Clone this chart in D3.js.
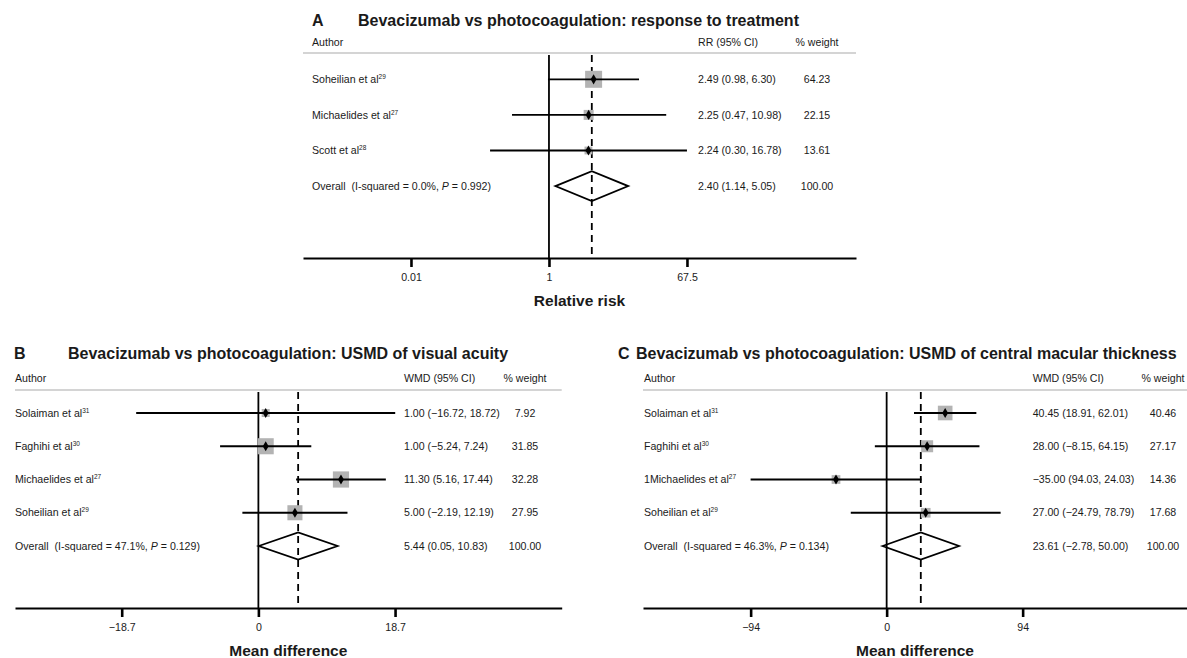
<!DOCTYPE html>
<html>
<head>
<meta charset="utf-8">
<script src="https://cdn.jsdelivr.net/npm/d3@7"></script>
<style>
body { margin: 0; background: #fff; }
text { font-family: "Liberation Sans", Arial, sans-serif; fill: #1a1a1a; white-space: pre; }
.ttl { font-size: 16px; font-weight: bold; }
.row { font-size: 10.6px; }
.axttl { font-size: 15.5px; font-weight: bold; }
</style>
</head>
<body>
<div id="chart"></div>
<script>
// A: response to treatment (risk ratio)
var studiesA = ["Soheilian et al", "Michaelides et al", "Scott et al"];
var refsA = ["29", "27", "28"];
var rrA = [2.49, 2.25, 2.24];
var lowA = [0.98, 0.47, 0.30];
var highA = [6.30, 10.98, 16.78];
var weightA = [64.23, 22.15, 13.61];
var ciTextA = ["2.49 (0.98, 6.30)", "2.25 (0.47, 10.98)", "2.24 (0.30, 16.78)"];
var overallA = [2.40, 1.14, 5.05];
var overallTextA = "2.40 (1.14, 5.05)";
var hetA = ["0.0%", "0.992"];
var tickValsA = [0.0596, 1, 16.78];
var tickLabelsA = ["0.01", "1", "67.5"];

// B: visual acuity (mean difference)
var studiesB = ["Solaiman et al", "Faghihi et al", "Michaelides et al", "Soheilian et al"];
var refsB = ["31", "30", "27", "29"];
var wmdB = [1.00, 1.00, 11.30, 5.00];
var lowB = [-16.72, -5.24, 5.16, -2.19];
var highB = [18.72, 7.24, 17.44, 12.19];
var weightB = [7.92, 31.85, 32.28, 27.95];
var ciTextB = ["1.00 (\u221216.72, 18.72)", "1.00 (\u22125.24, 7.24)", "11.30 (5.16, 17.44)", "5.00 (\u22122.19, 12.19)"];
var overallB = [5.44, 0.05, 10.83];
var overallTextB = "5.44 (0.05, 10.83)";
var hetB = ["47.1%", "0.129"];
var tickValsB = [-18.7, 0, 18.7];
var tickLabelsB = ["\u221218.7", "0", "18.7"];

// C: central macular thickness (mean difference)
var studiesC = ["Solaiman et al", "Faghihi et al", "1Michaelides et al", "Soheilian et al"];
var refsC = ["31", "30", "27", "29"];
var wmdC = [40.45, 28.00, -35.00, 27.00];
var lowC = [18.91, -8.15, -94.03, -24.79];
var highC = [62.01, 64.15, 24.03, 78.79];
var weightC = [40.46, 27.17, 14.36, 17.68];
var ciTextC = ["40.45 (18.91, 62.01)", "28.00 (\u22128.15, 64.15)", "\u221235.00 (94.03, 24.03)", "27.00 (\u221224.79, 78.79)"];
var overallC = [23.61, -2.78, 50.00];
var overallTextC = "23.61 (\u22122.78, 50.00)";
var hetC = ["46.3%", "0.134"];
var tickValsC = [-94, 0, 94];
var tickLabelsC = ["\u221294", "0", "94"];

var svg = d3.select("#chart").append("svg")
    .attr("width", 1187)
    .attr("height", 658);

var wfmt = d3.format(".2f");

function draw_forest(cfg) {
    var g = svg.append("g");
    var n = cfg.names.length;

    var x = (cfg.log ? d3.scaleLog() : d3.scaleLinear())
        .domain(cfg.domain)
        .range([cfg.x0, cfg.x1]);

    var rowY = function (i) { return cfg.rowTop + i * cfg.step; };
    var overallY = rowY(n);

    // titles
    g.append("text").attr("class", "ttl").attr("x", cfg.letterX).attr("y", cfg.titleY).text(cfg.letter);
    g.append("text").attr("class", "ttl").attr("x", cfg.titleX).attr("y", cfg.titleY).text(cfg.title);

    // column headers
    g.append("text").attr("class", "row").attr("x", cfg.labelX).attr("y", cfg.headY).text("Author");
    g.append("text").attr("class", "row").attr("x", cfg.ciX).attr("y", cfg.headY).text(cfg.ciHeader);
    g.append("text").attr("class", "row").attr("x", cfg.wX).attr("y", cfg.headY)
        .attr("text-anchor", "middle").text("% weight");

    g.append("line")
        .attr("x1", cfg.x0).attr("x2", cfg.x1)
        .attr("y1", cfg.lineY).attr("y2", cfg.lineY)
        .attr("stroke", "#c6c6c6").attr("stroke-width", 1.6);

    // no effect line and overall dashed line
    g.append("line")
        .attr("x1", x(cfg.nullVal)).attr("x2", x(cfg.nullVal))
        .attr("y1", cfg.lineY + 2).attr("y2", cfg.axisY)
        .attr("stroke", "#000").attr("stroke-width", 1.8);

    g.append("line")
        .attr("x1", x(cfg.overall[0])).attr("x2", x(cfg.overall[0]))
        .attr("y1", cfg.lineY + 2).attr("y2", cfg.axisY)
        .attr("stroke", "#000").attr("stroke-width", 1.8)
        .attr("stroke-dasharray", "7,5");

    var idx = d3.range(n);

    // weight boxes
    g.selectAll("rect.box").data(idx).enter().append("rect")
        .attr("class", "box")
        .attr("x", function (i) { return x(cfg.est[i]) - cfg.boxK * Math.sqrt(cfg.weight[i]) / 2; })
        .attr("y", function (i) { return rowY(i) - cfg.boxK * Math.sqrt(cfg.weight[i]) / 2; })
        .attr("width", function (i) { return cfg.boxK * Math.sqrt(cfg.weight[i]); })
        .attr("height", function (i) { return cfg.boxK * Math.sqrt(cfg.weight[i]); })
        .attr("fill", "#b3b3b3");

    // confidence intervals
    g.selectAll("line.ci").data(idx).enter().append("line")
        .attr("class", "ci")
        .attr("x1", function (i) { return x(cfg.lo[i]); })
        .attr("x2", function (i) { return x(cfg.hi[i]); })
        .attr("y1", function (i) { return rowY(i); })
        .attr("y2", function (i) { return rowY(i); })
        .attr("stroke", "#000").attr("stroke-width", 1.8);

    // point estimates
    g.selectAll("path.pt").data(idx).enter().append("path")
        .attr("class", "pt")
        .attr("transform", function (i) { return "translate(" + x(cfg.est[i]) + "," + rowY(i) + ")"; })
        .attr("d", d3.symbol().type(d3.symbolDiamond).size(30))
        .attr("fill", "#000");

    // pooled diamond
    var ov = cfg.overall;
    g.append("path")
        .attr("d", "M" + x(ov[1]) + "," + overallY +
            "L" + x(ov[0]) + "," + (overallY - cfg.diamondH) +
            "L" + x(ov[2]) + "," + overallY +
            "L" + x(ov[0]) + "," + (overallY + cfg.diamondH) + "Z")
        .attr("fill", "#fff").attr("fill-opacity", 0)
        .attr("stroke", "#000").attr("stroke-width", 1.8);

    // study labels
    var lab = g.selectAll("text.lab").data(idx).enter().append("text")
        .attr("class", "row lab")
        .attr("x", cfg.labelX)
        .attr("y", function (i) { return rowY(i); })
        .attr("dy", "0.35em");
    lab.append("tspan").text(function (i) { return cfg.names[i]; });
    lab.append("tspan").attr("dy", -4).style("font-size", "6.5px").text(function (i) { return cfg.refs[i]; });

    g.selectAll("text.cit").data(idx).enter().append("text")
        .attr("class", "row cit")
        .attr("x", cfg.ciX)
        .attr("y", function (i) { return rowY(i); })
        .attr("dy", "0.35em")
        .text(function (i) { return cfg.ciText[i]; });

    g.selectAll("text.wt").data(idx).enter().append("text")
        .attr("class", "row wt")
        .attr("x", cfg.wX)
        .attr("y", function (i) { return rowY(i); })
        .attr("dy", "0.35em")
        .attr("text-anchor", "middle")
        .text(function (i) { return wfmt(cfg.weight[i]); });

    // overall row
    var ot = g.append("text").attr("class", "row").attr("x", cfg.labelX).attr("y", overallY).attr("dy", "0.35em");
    ot.append("tspan").text("Overall  (I-squared = " + cfg.het[0] + ", ");
    ot.append("tspan").style("font-style", "italic").text("P");
    ot.append("tspan").text(" = " + cfg.het[1] + ")");
    g.append("text").attr("class", "row").attr("x", cfg.ciX).attr("y", overallY).attr("dy", "0.35em").text(cfg.overallText);
    g.append("text").attr("class", "row").attr("x", cfg.wX).attr("y", overallY).attr("dy", "0.35em")
        .attr("text-anchor", "middle").text(wfmt(100));

    // axis
    var ax = g.append("g")
        .attr("transform", "translate(0," + cfg.axisY + ")")
        .call(d3.axisBottom(x)
            .tickValues(cfg.ticks)
            .tickFormat(function (d, i) { return cfg.tickLabels[i]; })
            .tickSize(9)
            .tickSizeOuter(0)
            .tickPadding(6));
    ax.select(".domain").attr("stroke", "#000").attr("stroke-width", 2);
    ax.selectAll(".tick line").attr("stroke", "#000").attr("stroke-width", 2.6);
    ax.selectAll(".tick text")
        .attr("fill", "#1a1a1a")
        .style("font-family", '"Liberation Sans", Arial, sans-serif')
        .style("font-size", "10.6px");

    g.append("text").attr("class", "axttl")
        .attr("x", (cfg.x0 + cfg.x1) / 2)
        .attr("y", cfg.axisTitleY)
        .attr("text-anchor", "middle")
        .text(cfg.axisTitle);
}

draw_forest({
    letter: "A", title: "Bevacizumab vs photocoagulation: response to treatment",
    letterX: 312, titleX: 358, titleY: 25.5,
    headY: 46, lineY: 53, rowTop: 79.3, step: 35.6, axisY: 258, axisTitleY: 306,
    x0: 303, x1: 856, log: true, domain: [0.00656, 531], nullVal: 1,
    labelX: 312, ciX: 698, wX: 817, boxK: 2.12, diamondH: 15,
    ciHeader: "RR (95% CI)", axisTitle: "Relative risk",
    names: studiesA, refs: refsA, est: rrA, lo: lowA, hi: highA, weight: weightA,
    ciText: ciTextA, overall: overallA, overallText: overallTextA, het: hetA,
    ticks: tickValsA, tickLabels: tickLabelsA
});

draw_forest({
    letter: "B", title: "Bevacizumab vs photocoagulation: USMD of visual acuity",
    letterX: 14, titleX: 68, titleY: 359,
    headY: 382, lineY: 390, rowTop: 413, step: 33.25, axisY: 608, axisTitleY: 656,
    x0: 15, x1: 561.7, log: false, domain: [-33.3, 41.5], nullVal: 0,
    labelX: 15, ciX: 404, wX: 525, boxK: 2.85, diamondH: 13.5,
    ciHeader: "WMD (95% CI)", axisTitle: "Mean difference",
    names: studiesB, refs: refsB, est: wmdB, lo: lowB, hi: highB, weight: weightB,
    ciText: ciTextB, overall: overallB, overallText: overallTextB, het: hetB,
    ticks: tickValsB, tickLabels: tickLabelsB
});

draw_forest({
    letter: "C", title: "Bevacizumab vs photocoagulation: USMD of central macular thickness",
    letterX: 618, titleX: 636, titleY: 359,
    headY: 382, lineY: 390, rowTop: 413, step: 33.25, axisY: 608, axisTitleY: 656,
    x0: 643, x1: 1187, log: false, domain: [-168.4, 207.6], nullVal: 0,
    labelX: 644, ciX: 1032.7, wX: 1163, boxK: 2.3, diamondH: 13.5,
    ciHeader: "WMD (95% CI)", axisTitle: "Mean difference",
    names: studiesC, refs: refsC, est: wmdC, lo: lowC, hi: highC, weight: weightC,
    ciText: ciTextC, overall: overallC, overallText: overallTextC, het: hetC,
    ticks: tickValsC, tickLabels: tickLabelsC
});
</script>
</body>
</html>
